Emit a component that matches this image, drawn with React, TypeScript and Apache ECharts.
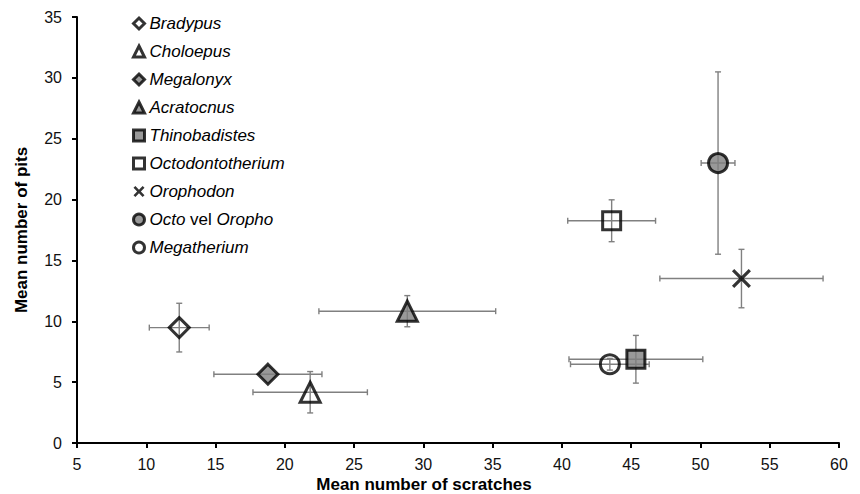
import React, { useEffect, useRef } from "react";
import * as echarts from "echarts";

const species = [
  "Bradypus",
  "Choloepus",
  "Megalonyx",
  "Acratocnus",
  "Thinobadistes",
  "Octodontotherium",
  "Orophodon",
  "Octo vel Oropho",
  "Megatherium",
];
const scratchMean = [12.38, 21.83, 18.78, 28.84, 45.34, 43.59, 52.96, 51.27, 43.46];
const scratchErr = [2.16, 4.13, 3.9, 6.38, 4.83, 3.17, 5.89, 1.22, 2.84];
const pitMean = [9.48, 4.17, 5.65, 10.83, 6.88, 18.26, 13.51, 23.0, 6.47];
const pitErr = [2.0, 1.7, 0, 1.28, 1.96, 1.72, 2.4, 7.49, 0.48];

const X_PATH =
  "path://M0,12 L12,0 L50,38 L88,0 L100,12 L62,50 L100,88 L88,100 L50,62 L12,100 L0,88 L38,50 Z";
const X_PATH_BOLD =
  "path://M0,17 L17,0 L50,33 L83,0 L100,17 L67,50 L100,83 L83,100 L50,67 L17,100 L0,83 L33,50 Z";

const symbols = ["diamond", "triangle", "diamond", "triangle", "rect", "rect", X_PATH, "circle", "circle"];
const fills = ["open", "open", "gray", "gray", "gray", "open", "x", "gray", "open"];
const sizes = [20, 20, 20, 20, 18, 18, 19, 19, 19];

const GRAY = "#808080";
const FONT = "'Liberation Sans', Arial, sans-serif";

export default function App() {
  const ref = useRef<HTMLDivElement>(null);
  useEffect(() => {
    if (!ref.current) return;
    const chart = echarts.init(ref.current, undefined, { renderer: "svg" });

    const errData = species.map((_, i) => [scratchMean[i], pitMean[i], scratchErr[i], pitErr[i]]);

    const styleFor = (i: number, bw: number) => {
      const f = fills[i];
      return f === "x"
        ? { color: "#000", borderWidth: 0 }
        : {
            color: f === "gray" ? GRAY : "#fff",
            borderColor: "#000",
            borderWidth: bw,
          };
    };

    const scatterSeries = species.map((name, i) => ({
      type: "scatter",
      name,
      symbol: symbols[i],
      symbolSize: sizes[i],
      z: 3,
      itemStyle: fills[i] === "open" ? { ...styleFor(i, 3), color: "rgba(255,255,255,0)" } : styleFor(i, 3),
      data: [[scratchMean[i], pitMean[i]]],
    }));

    const cap = 3;
    const errSeries = {
      type: "custom",
      name: "err",
      z: 1,
      silent: true,
      data: errData,
      renderItem: (params: any, api: any) => {
        const x = api.value(0);
        const y = api.value(1);
        const xe = api.value(2);
        const ye = api.value(3);
        const style = { stroke: GRAY, lineWidth: 1.4 };
        const children: any[] = [];
        if (xe > 0) {
          const l = api.coord([x - xe, y]);
          const r = api.coord([x + xe, y]);
          children.push({ type: "line", shape: { x1: l[0], y1: l[1], x2: r[0], y2: r[1] }, style });
          children.push({ type: "line", shape: { x1: l[0], y1: l[1] - cap, x2: l[0], y2: l[1] + cap }, style });
          children.push({ type: "line", shape: { x1: r[0], y1: r[1] - cap, x2: r[0], y2: r[1] + cap }, style });
        }
        if (ye > 0) {
          const t = api.coord([x, y + ye]);
          const b = api.coord([x, y - ye]);
          children.push({ type: "line", shape: { x1: t[0], y1: t[1], x2: b[0], y2: b[1] }, style });
          children.push({ type: "line", shape: { x1: t[0] - cap, y1: t[1], x2: t[0] + cap, y2: t[1] }, style });
          children.push({ type: "line", shape: { x1: b[0] - cap, y1: b[1], x2: b[0] + cap, y2: b[1] }, style });
        }
        return { type: "group", children };
      },
    };

    const axisCommon = {
      axisLine: { show: true, lineStyle: { color: "#000", width: 2 } },
      axisTick: { show: true, inside: false, length: 5, lineStyle: { color: "#000", width: 2 } },
      splitLine: { show: false },
    };

    const titleStyle = {
      fontFamily: FONT,
      fontSize: 17,
      fontWeight: "bold",
      fill: "#000",
      align: "center",
      verticalAlign: "middle",
    };

    chart.setOption({
      animation: false,
      grid: { left: 77, right: 21, top: 17, bottom: 51, containLabel: false },
      xAxis: {
        type: "value",
        min: 5,
        max: 60,
        interval: 5,
        ...axisCommon,
        axisLabel: { margin: 13, fontFamily: FONT, fontSize: 16, color: "#111" },
      },
      yAxis: {
        type: "value",
        min: 0,
        max: 35,
        interval: 5,
        ...axisCommon,
        axisLabel: { margin: 15, fontFamily: FONT, fontSize: 16, color: "#111" },
      },
      graphic: [
        {
          type: "text",
          x: 424,
          y: 484,
          style: { ...titleStyle, text: "Mean number of scratches" },
        },
        {
          type: "text",
          x: 21,
          y: 230,
          rotation: Math.PI / 2,
          style: { ...titleStyle, text: "Mean number of pits" },
        },
      ],
      legend: {
        data: species.map((name, i) =>
          fills[i] === "x"
            ? { name, icon: X_PATH_BOLD, itemStyle: { color: "#000", borderWidth: 0 } }
            : { name, itemStyle: styleFor(i, 3) }
        ),
        orient: "vertical",
        left: 132,
        top: 15,
        itemWidth: 11,
        itemHeight: 11,
        itemGap: 11,
        padding: 0,
        formatter: (name: string) =>
          name === "Octo vel Oropho" ? "{i|Octo} {n|vel} {i|Oropho}" : name,
        textStyle: {
          fontFamily: FONT,
          fontSize: 17,
          fontStyle: "italic",
          color: "#000",
          rich: {
            i: { fontFamily: FONT, fontSize: 17, fontStyle: "italic", color: "#000" },
            n: { fontFamily: FONT, fontSize: 17, fontStyle: "normal", color: "#000" },
          },
        },
      },
      series: [errSeries, ...scatterSeries],
    });

    return () => chart.dispose();
  }, []);

  return <div ref={ref} style={{ width: 860, height: 494, position: "absolute", left: 0, top: 0 }} />;
}
